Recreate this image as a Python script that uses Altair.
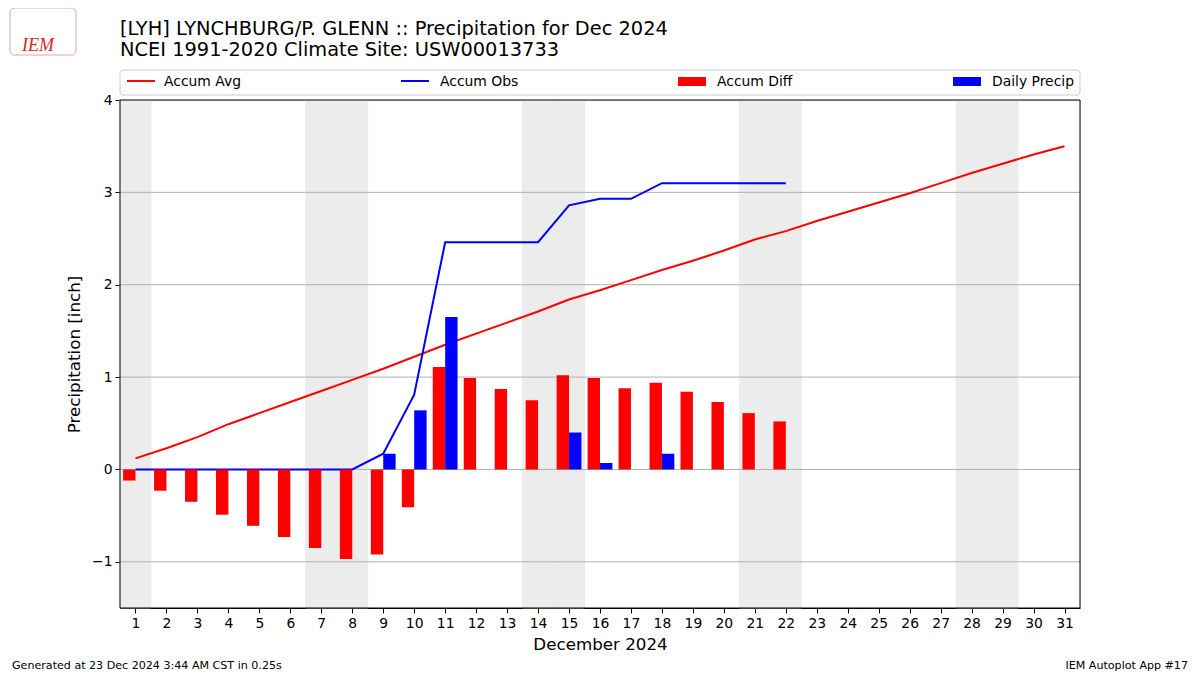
import altair as alt
import pandas as pd

# ---------------- data ----------------
days = list(range(1, 32))
accum_avg = [0.12, 0.23, 0.35, 0.49, 0.61, 0.73, 0.85, 0.97, 1.09, 1.22, 1.35,
             1.47, 1.59, 1.71, 1.84, 1.94, 2.05, 2.16, 2.26, 2.37, 2.49, 2.58,
             2.69, 2.79, 2.89, 2.99, 3.10, 3.21, 3.31, 3.41, 3.50]
obs_days = list(range(1, 23))
accum_obs = [0, 0, 0, 0, 0, 0, 0, 0, 0.17, 0.81, 2.46, 2.46, 2.46, 2.46, 2.86,
             2.93, 2.93, 3.10, 3.10, 3.10, 3.10, 3.10]
accum_diff = [-0.12, -0.23, -0.35, -0.49, -0.61, -0.73, -0.85, -0.97, -0.92,
              -0.41, 1.11, 0.99, 0.87, 0.75, 1.02, 0.99, 0.88, 0.94, 0.84, 0.73,
              0.61, 0.52]
precip_days = [9, 10, 11, 15, 16, 18]
daily_precip = [0.17, 0.64, 1.65, 0.40, 0.07, 0.17]
weekend_days = [1, 7, 8, 14, 15, 21, 22, 28, 29]
grid_values = [-1, 0, 1, 2, 3]

title1 = "[LYH] LYNCHBURG/P. GLENN :: Precipitation for Dec 2024"
title2 = "NCEI 1991-2020 Climate Site: USW00013733"
legend_labels = ["Accum Avg", "Accum Obs", "Accum Diff", "Daily Precip"]
footer_left = "Generated at 23 Dec 2024 3:44 AM CST in 0.25s"
footer_right = "IEM Autoplot App #17"

FONT = "DejaVu Sans"
SHADE = "#ececec"

# ---------------- scales ----------------
xscale = alt.Scale(domain=[0.5, 31.5], nice=False, zero=False)
yscale = alt.Scale(domain=[-1.5, 4], nice=False, zero=False)

x_axis = alt.Axis(values=days, format="d", title="December 2024", grid=False,
                  labelFontSize=13.9, titleFontSize=16.7, tickSize=5, labelPadding=3,
                  titlePadding=7, domainColor="black", tickColor="black",
                  labelColor="black", titleColor="black", titleFontWeight="normal",
                  labelFont=FONT, titleFont=FONT, labelOverlap=False)
y_axis = alt.Axis(values=[-1, 0, 1, 2, 3, 4], format="d", title="Precipitation [inch]",
                  grid=False, labelFontSize=13.9, titleFontSize=16.7, tickSize=5,
                  labelPadding=3, titlePadding=8, domainColor="black",
                  tickColor="black", labelColor="black", titleColor="black",
                  titleFontWeight="normal", labelFont=FONT, titleFont=FONT,
                  labelOverlap=False)


def X(field):
    return alt.X(field, scale=xscale, axis=x_axis)


def Y(field):
    return alt.Y(field, scale=yscale, axis=y_axis)


# ---------------- layers ----------------
wk = pd.DataFrame({"day": weekend_days})
shade = alt.Chart(wk).transform_calculate(
    x0="datum.day - 0.5", x1="datum.day + 0.5"
).mark_rect(color=SHADE, stroke=SHADE, strokeWidth=1).encode(
    x=X("x0:Q"), x2="x1:Q",
    y=alt.value(0), y2=alt.value(508),
)

grid = alt.Chart(pd.DataFrame({"v": grid_values})).mark_rule(
    color="#b0b0b0", strokeWidth=1
).encode(y=Y("v:Q"))

avg_df = pd.DataFrame({"day": days, "v": accum_avg})
avg_line = alt.Chart(avg_df).mark_line(color="red", strokeWidth=2).encode(
    x=X("day:Q"), y=Y("v:Q"))

obs_df = pd.DataFrame({"day": obs_days, "v": accum_obs})
obs_line = alt.Chart(obs_df).mark_line(color="blue", strokeWidth=2).encode(
    x=X("day:Q"), y=Y("v:Q"))

diff_df = pd.DataFrame({"day": obs_days, "v": accum_diff})
diff_bars = alt.Chart(diff_df).transform_calculate(
    x0="datum.day - 0.4", z="0"
).mark_rect(color="red").encode(
    x=X("x0:Q"), x2="day:Q", y=Y("v:Q"), y2="z:Q")

pr_df = pd.DataFrame({"day": precip_days, "v": daily_precip})
pr_bars = alt.Chart(pr_df).transform_calculate(
    x1="datum.day + 0.4", z="0"
).mark_rect(color="blue").encode(
    x=X("day:Q"), x2="x1:Q", y=Y("v:Q"), y2="z:Q")


def label(text, x, y, size=13.9, align="left", color="black", font=FONT, **kw):
    return alt.Chart(pd.DataFrame({"t": [text]})).mark_text(
        align=align, baseline="middle", fontSize=size, font=font, color=color, **kw
    ).encode(x=alt.value(x), y=alt.value(y), text="t:N")


one = pd.DataFrame({"a": [0]})

border = alt.Chart(one).mark_rect(
    fill=None, fillOpacity=0, stroke="black", strokeWidth=1
).encode(x=alt.value(0), x2=alt.value(960), y=alt.value(0), y2=alt.value(508))

# legend box
legend_box = alt.Chart(one).mark_rect(
    fill="white", stroke="#cccccc", strokeWidth=1, cornerRadius=3
).encode(x=alt.value(0), x2=alt.value(960), y=alt.value(-30), y2=alt.value(-5))

legend_layers = [legend_box]
legend_colors = ["red", "blue", "red", "blue"]
sym_x = [7, 281, 558, 833]
txt_x = [44, 320, 597, 872]
for i, lab in enumerate(legend_labels):
    if i < 2:
        legend_layers.append(alt.Chart(one).mark_rule(
            color=legend_colors[i], strokeWidth=2
        ).encode(x=alt.value(sym_x[i]), x2=alt.value(sym_x[i] + 28),
                 y=alt.value(-19)))
    else:
        legend_layers.append(alt.Chart(one).mark_rect(
            color=legend_colors[i]
        ).encode(x=alt.value(sym_x[i]), x2=alt.value(sym_x[i] + 28),
                 y=alt.value(-23), y2=alt.value(-14)))
    legend_layers.append(label(lab, txt_x[i], -18))

# logo approximation (outline + IEM text)
logo_box = alt.Chart(one).mark_rect(
    fill=None, fillOpacity=0, stroke="#e8a0a0", strokeWidth=1, cornerRadius=4
).encode(x=alt.value(-110), x2=alt.value(-44), y=alt.value(-92), y2=alt.value(-45))

texts = [
    label(title1, 0, -71, size=19.4),
    label(title2, 0, -50, size=19.4),
    label(footer_left, -108, 566, size=11.1),
    label(footer_right, 1068, 566, size=11.1, align="right"),
    label("IEM", -82, -54, size=18, align="center", color="#d62728",
          font="Liberation Serif", fontStyle="italic"),
]

chart = alt.layer(
    shade, grid, avg_line, obs_line, diff_bars, pr_bars, border,
    *legend_layers, logo_box, *texts
).properties(
    width=960, height=508,
    autosize=alt.AutoSizeParams(type="none"),
    padding={"left": 112, "top": 92, "right": 112, "bottom": 65},
).configure_view(
    stroke=None
).configure_axis(
    labelOverlap=False
).configure(background="white")

chart.save("out.html", embed_options={"renderer": "svg", "actions": False})
